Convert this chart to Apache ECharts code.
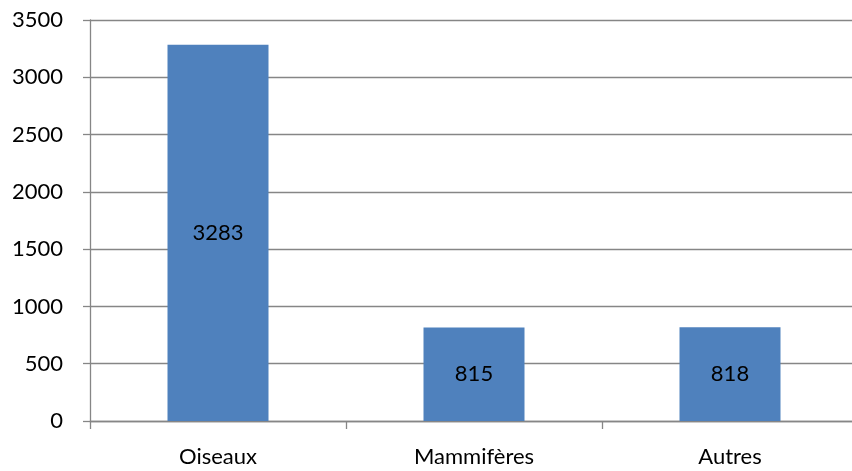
<!DOCTYPE html>
<html>
<head>
<meta charset="utf-8">
<script src="https://cdn.jsdelivr.net/npm/echarts@6/dist/echarts.min.js"></script>
<style>
    html, body { margin: 0; padding: 0; background: #fff; overflow: hidden; }
    #chart { width: 862px; height: 471px; }
</style>
</head>
<body>
<div id="chart"></div>
<script>
const categories = ["Oiseaux", "Mammifères", "Autres"];
const counts = [3283, 815, 818];

const chart = echarts.init(document.getElementById("chart"));
chart.setOption({
    animation: false,
    grid: { left: 90, top: 20, width: 768, height: 401, containLabel: false },
    xAxis: {
        type: "category",
        data: categories,
        axisLine: { lineStyle: { color: "#868686", width: 1.3 } },
        axisTick: { show: true, length: 8, lineStyle: { color: "#868686", width: 1.3 } },
        axisLabel: { color: "#000", fontFamily: "Lato", fontSize: 22, margin: 25 },
    },
    yAxis: {
        type: "value",
        min: 0,
        max: 3500,
        interval: 500,
        axisLine: { show: true, lineStyle: { color: "#868686", width: 1.3 } },
        axisTick: { show: true, length: 7, lineStyle: { color: "#868686", width: 1.3 } },
        axisLabel: {
            color: "#000",
            fontFamily: "Lato",
            fontSize: 22,
            margin: 27,
            formatter: (v) => String(v),
        },
        splitLine: { lineStyle: { color: "#868686", width: 1.3 } },
    },
    series: [
        {
            type: "bar",
            data: counts,
            barWidth: 101,
            itemStyle: { color: "#4F81BD" },
            label: {
                show: true,
                position: "inside",
                color: "#000",
                fontFamily: "Lato",
                fontSize: 22,
            },
        },
    ],
});
</script>
</body>
</html>
